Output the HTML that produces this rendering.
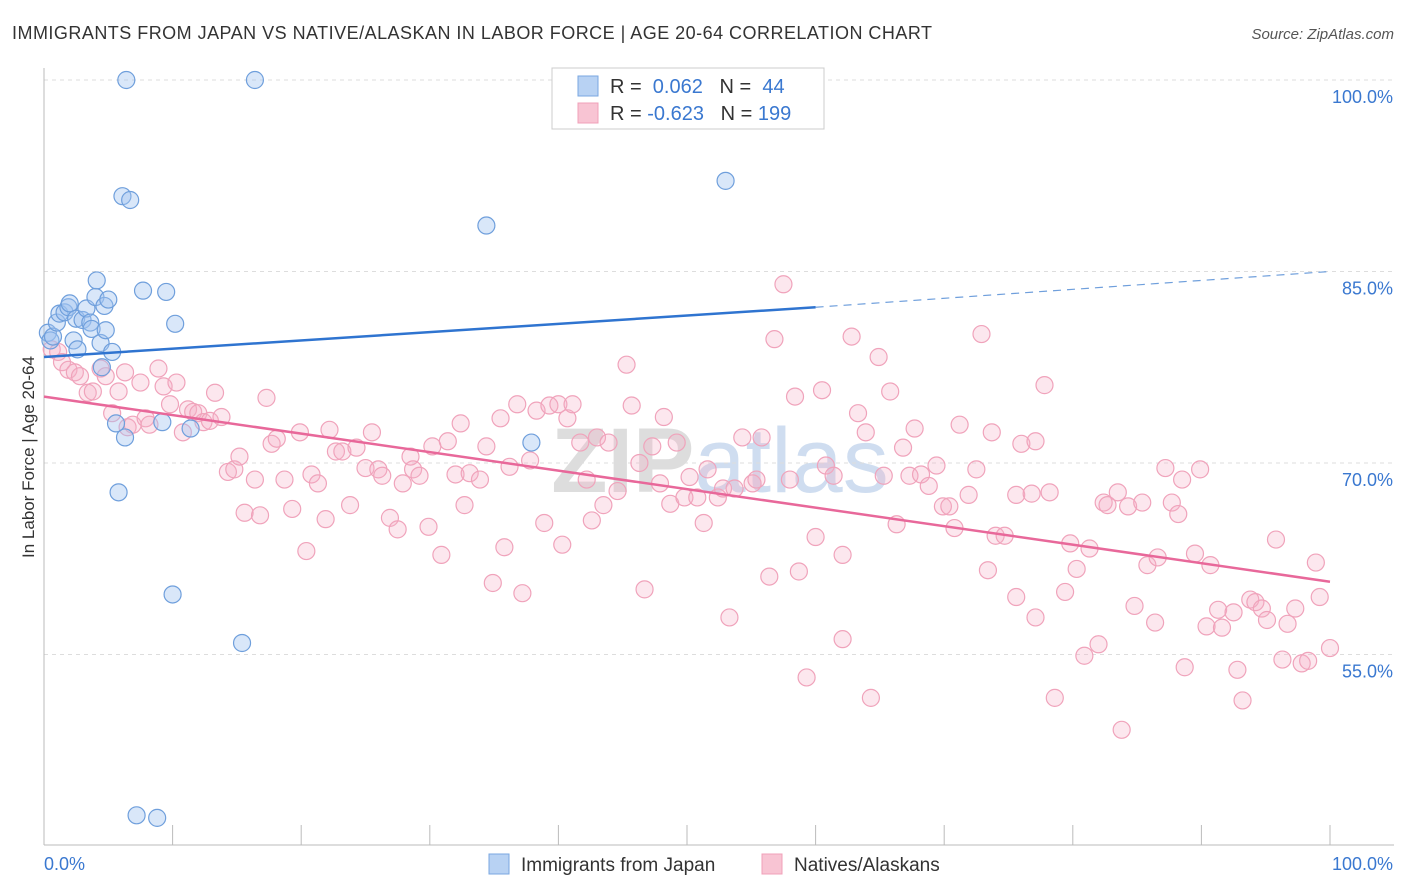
<!DOCTYPE html>
<html><head><meta charset="utf-8"><style>
body{margin:0;background:#fff;font-family:"Liberation Sans",sans-serif;}
#wrap{position:relative;width:1406px;height:892px;overflow:hidden;}
</style></head><body>
<div id="wrap">
<svg id="svg" width="1406" height="892" xmlns="http://www.w3.org/2000/svg">
<text x="12" y="39" font-size="18" fill="#333" textLength="920" lengthAdjust="spacing">IMMIGRANTS FROM JAPAN VS NATIVE/ALASKAN IN LABOR FORCE | AGE 20-64 CORRELATION CHART</text>
<text x="1394" y="39" font-size="15" fill="#555" text-anchor="end" font-style="italic">Source: ZipAtlas.com</text>
<text x="720" y="492" font-size="92" fill="#cfcfcf" text-anchor="middle" font-weight="bold" opacity="0.7">ZIP<tspan fill="#bcd0ea" font-weight="normal">atlas</tspan></text>
<text transform="translate(34,457) rotate(-90)" font-size="17" fill="#333" text-anchor="middle">In Labor Force | Age 20-64</text>
<g id="grid"></g><g id="axes"></g><g id="pts"></g><g id="lines"></g>
<g>
<rect x="552" y="68" width="272" height="61" fill="#fff" stroke="#ccc"/>
<rect x="578" y="76" width="20" height="20" fill="#b8d2f3" stroke="#7aa7e0"/>
<rect x="578" y="103" width="20" height="20" fill="#f8c4d3" stroke="#f0a0b8"/>
<text x="610" y="93" font-size="20" fill="#333">R = <tspan fill="#3a78d0">&#160;0.062</tspan>&#160;&#160;&#160;N = <tspan fill="#3a78d0">&#160;44</tspan></text>
<text x="610" y="120" font-size="20" fill="#333">R = <tspan fill="#3a78d0">-0.623</tspan>&#160;&#160;&#160;N = <tspan fill="#3a78d0">199</tspan></text>
</g>
<g>
<rect x="489" y="854" width="20" height="20" fill="#b8d2f3" stroke="#7aa7e0"/>
<text x="521" y="871" font-size="19" fill="#333">Immigrants from Japan</text>
<rect x="762" y="854" width="20" height="20" fill="#f8c4d3" stroke="#f0a0b8"/>
<text x="794" y="871" font-size="19" fill="#333">Natives/Alaskans</text>
</g>
</svg>
</div>
<script>
const yTicks=[55,70,85,100];
const yTickLabels=["55.0%","70.0%","85.0%","100.0%"];
const xTickLabels=["0.0%","100.0%"];
const blueX=[0.3,0.5,0.7,1.0,1.2,1.6,1.9,2.0,2.3,2.5,2.6,3.0,3.3,3.6,3.7,4.0,4.1,4.4,4.7,4.8,5.0,5.3,5.6,5.8,6.1,6.3,6.4,6.7,7.7,9.2,9.5,10.0,10.2,11.4,15.4,16.4,7.2,8.8,34.4,37.9,53.0,4.5];
const blueY=[80.2,79.6,79.9,81.0,81.7,81.8,82.2,82.5,79.6,81.3,78.9,81.2,82.1,81.0,80.5,83.0,84.3,79.4,82.3,80.4,82.8,78.7,73.1,67.7,90.9,72.0,100.0,90.6,83.5,73.2,83.4,59.7,80.9,72.7,55.9,100.0,42.4,42.2,88.6,71.6,92.1,77.5];
const pinkX=[0.6,1.1,1.4,1.9,2.4,2.8,3.4,3.8,4.4,4.8,5.3,5.8,6.3,6.5,6.9,7.5,7.9,8.2,8.9,9.3,9.8,10.3,10.8,11.2,11.6,12.0,12.4,12.9,13.3,13.8,14.3,14.8,15.2,15.6,16.4,16.8,17.3,17.7,18.1,18.7,19.3,19.9,20.4,20.8,21.3,21.9,22.2,22.7,23.2,23.8,24.3,25.0,25.5,26.0,26.3,26.9,27.5,27.9,28.5,28.7,29.2,29.9,30.2,30.9,31.4,32.0,32.4,32.7,33.1,33.9,34.4,34.9,35.5,35.8,36.2,36.8,37.2,37.8,38.3,38.9,39.3,40.0,40.3,40.7,41.1,41.7,42.2,42.6,43.0,43.5,43.9,44.6,45.3,45.7,46.3,46.7,47.3,47.9,48.2,48.7,49.2,49.8,50.2,50.8,51.3,51.6,52.4,52.8,53.3,53.7,54.3,55.1,55.4,55.8,56.4,56.8,57.5,58.0,58.4,58.7,59.3,60.0,60.5,60.8,61.4,62.1,62.1,62.8,63.3,63.9,64.3,64.9,65.3,65.8,66.3,66.8,67.3,67.7,68.2,68.8,69.4,69.9,70.4,70.8,71.2,71.9,72.5,72.9,73.4,73.7,74.0,74.7,75.6,75.6,76.0,76.8,77.1,77.1,77.8,78.2,78.6,79.4,79.8,80.3,80.9,81.3,82.0,82.4,82.7,83.5,83.8,84.3,84.8,85.4,85.8,86.4,86.6,87.2,87.7,88.2,88.5,88.7,89.5,89.9,90.4,90.7,91.3,91.6,92.5,92.8,93.2,93.8,94.2,94.7,95.1,95.8,96.3,96.7,97.3,97.8,98.3,98.9,99.2,100.0];
const pinkY=[78.9,78.7,77.9,77.3,77.1,76.8,75.5,75.6,77.4,76.8,73.9,75.6,77.1,72.8,73.0,76.3,73.5,73.0,77.4,76.0,74.6,76.3,72.4,74.2,74.0,73.9,73.2,73.3,75.5,73.6,69.3,69.5,70.5,66.1,68.7,65.9,75.1,71.5,71.9,68.7,66.4,72.4,63.1,69.1,68.4,65.6,72.6,70.9,70.9,66.7,71.2,69.6,72.4,69.5,69.0,65.7,64.8,68.4,70.5,69.5,69.0,65.0,71.3,62.8,71.7,69.1,73.1,66.7,69.2,68.7,71.3,60.6,73.5,63.4,69.7,74.6,59.8,70.2,74.1,65.3,74.5,74.6,63.6,73.5,74.6,71.6,68.7,65.5,72.0,66.7,71.6,67.8,77.7,74.5,70.0,60.1,71.3,68.4,73.6,66.8,71.6,67.3,68.9,67.3,65.3,69.5,67.3,68.0,57.9,68.0,72.0,68.4,68.7,72.0,61.1,79.7,84.0,68.7,75.2,61.5,53.2,64.2,75.7,69.8,69.0,62.8,56.2,79.9,73.9,72.4,51.6,78.3,69.0,75.6,65.2,71.2,69.0,72.7,69.1,68.2,69.8,66.6,66.6,64.9,73.0,67.5,69.5,80.1,61.6,72.4,64.3,64.3,59.5,67.5,71.5,67.6,71.7,57.9,76.1,67.7,51.6,59.9,63.7,61.7,54.9,63.3,55.8,66.9,66.7,67.7,49.1,66.6,58.8,66.9,62.0,57.5,62.6,69.6,66.9,66.0,68.7,54.0,62.9,69.5,57.2,62.0,58.5,57.1,58.3,53.8,51.4,59.3,59.1,58.6,57.7,64.0,54.6,57.4,58.6,54.3,54.5,62.2,59.5,55.5];
const blueTrend=[78.3,82.2,85.0]; // at x=0, 60, 100
const pinkTrend=[75.2,60.7];      // at x=0, 100

const NS="http://www.w3.org/2000/svg";
const X0=44,X1=1330,YTOP=80,PX_PER=12.766;
function sx(v){return X0+(X1-X0)*v/100;}
function sy(v){return YTOP+(100-v)*PX_PER;}
function mk(tag,attrs,parent){const e=document.createElementNS(NS,tag);for(const k in attrs)e.setAttribute(k,attrs[k]);document.getElementById(parent).appendChild(e);return e;}

yTicks.forEach((t,i)=>{
  const g=mk('line',{x1:44,x2:1394,y1:sy(t),y2:sy(t),stroke:'#ddd','stroke-dasharray':'4,4'},'grid');
  
  
  const tx=mk('text',{x:1393,y:sy(t)+23,'font-size':18,fill:'#3a78d0','text-anchor':'end'},'axes');
  tx.textContent=yTickLabels[i];
  
  
});
const ya=mk('line',{x1:44,x2:44,y1:68,y2:845,stroke:'#bbb'},'axes');


const xa=mk('line',{x1:44,x2:1394,y1:845,y2:845,stroke:'#bbb'},'axes');


for(let i=0;i<=10;i++){
  const tk=mk('line',{x1:sx(i*10),x2:sx(i*10),y1:825,y2:845,stroke:'#bbb'},'axes');
  
  
}
const xl0=mk('text',{x:44,y:870,'font-size':18,fill:'#3a78d0'},'axes');xl0.textContent=xTickLabels[0];


const xl1=mk('text',{x:1393,y:870,'font-size':18,fill:'#3a78d0','text-anchor':'end'},'axes');xl1.textContent=xTickLabels[1];



pinkX.forEach((x,i)=>{
  const c=mk('circle',{cx:sx(x),cy:sy(pinkY[i]),r:8.5,fill:'rgba(245,175,198,0.3)',stroke:'#f0a3bb','stroke-width':1.2},'pts');
  
  
});
blueX.forEach((x,i)=>{
  const c=mk('circle',{cx:sx(x),cy:sy(blueY[i]),r:8.5,fill:'rgba(160,195,240,0.4)',stroke:'#6f9fdc','stroke-width':1.2},'pts');
  
  
});
const bl=mk('line',{x1:sx(0),y1:sy(blueTrend[0]),x2:sx(60),y2:sy(blueTrend[1]),stroke:'#2f74d0','stroke-width':2.5},'lines');


const bd=mk('line',{x1:sx(60),y1:sy(blueTrend[1]),x2:sx(100),y2:sy(blueTrend[2]),stroke:'#6f9fdc','stroke-width':1.2,'stroke-dasharray':'8,6'},'lines');


const pl=mk('line',{x1:sx(0),y1:sy(pinkTrend[0]),x2:sx(100),y2:sy(pinkTrend[1]),stroke:'#e8689a','stroke-width':2.5},'lines');


</script>
</body></html>
